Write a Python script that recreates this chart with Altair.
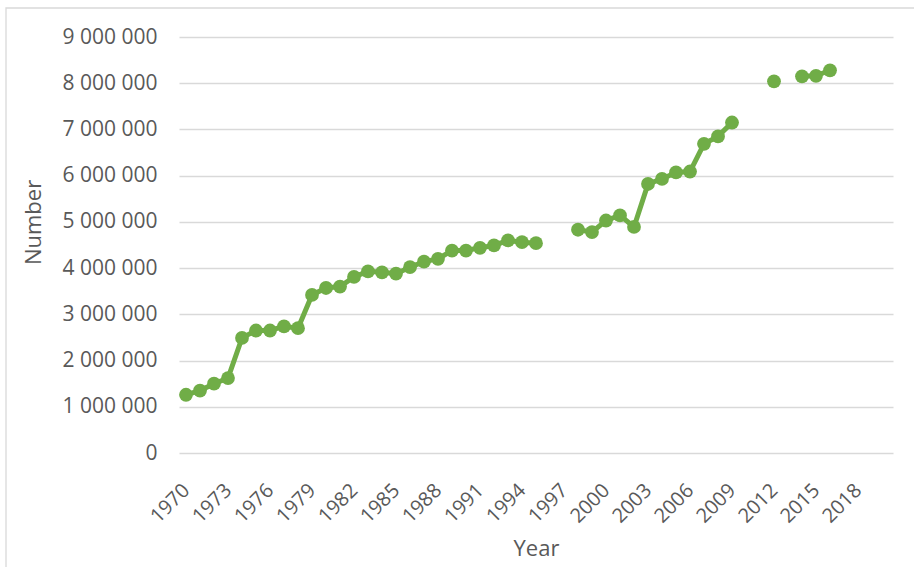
import altair as alt
import pandas as pd

# Observed years and the counts recorded for them (years without a record are absent)
years = [
    1970, 1971, 1972, 1973, 1974, 1975, 1976, 1977, 1978, 1979,
    1980, 1981, 1982, 1983, 1984, 1985, 1986, 1987, 1988, 1989,
    1990, 1991, 1992, 1993, 1994, 1995,
    1998, 1999, 2000, 2001, 2002, 2003, 2004, 2005, 2006, 2007, 2008, 2009,
    2012,
    2014, 2015, 2016,
]
numbers = [
    1260000, 1350000, 1500000, 1620000, 2490000, 2650000, 2650000, 2740000, 2700000, 3420000,
    3570000, 3600000, 3810000, 3930000, 3910000, 3880000, 4020000, 4140000, 4200000, 4380000,
    4380000, 4440000, 4490000, 4600000, 4560000, 4540000,
    4830000, 4780000, 5030000, 5140000, 4890000, 5820000, 5930000, 6070000, 6090000, 6690000, 6850000, 7150000,
    8040000,
    8150000, 8160000, 8280000,
]

# Category axis runs over every year, labelled every third year
all_years = list(range(1970, 2021))
tick_years = list(range(1970, 2019, 3))

# Consecutive years share a segment so the line breaks over missing years
segments = []
seg = 0
for i, y in enumerate(years):
    if i > 0 and y - years[i - 1] > 1:
        seg += 1
    segments.append(seg)

df = pd.DataFrame({"year": years, "number": numbers, "segment": segments})

GREEN = "#70AD47"
TEXT = "#595959"
GRID = "#D9D9D9"
FONT = "Open Sans"

x_enc = alt.X(
    "year:O",
    scale=alt.Scale(domain=all_years),
    axis=alt.Axis(
        values=tick_years,
        title="Year",
        labelAngle=-45,
        labelAlign="right",
        labelBaseline="middle",
        labelPadding=34,
        ticks=False,
        domain=False,
        grid=False,
        labelFontSize=20,
        titleFontSize=22,
        titleFontWeight="normal",
        titleY=95,
        titleBaseline="middle",
    ),
)
y_enc = alt.Y(
    "number:Q",
    scale=alt.Scale(domain=[0, 9000000], nice=False),
    axis=alt.Axis(
        values=list(range(0, 9000001, 1000000)),
        title="Number",
        labelExpr="replace(format(datum.value, ','), regexp(',', 'g'), ' ')",
        labelPadding=22,
        ticks=False,
        domain=False,
        grid=True,
        gridColor=GRID,
        gridWidth=1.6,
        labelFontSize=21,
        titleFontSize=22,
        titleFontWeight="normal",
        titleAngle=-90,
        titleAlign="center",
        titleBaseline="middle",
        titleX=-146,
        titleY=185,
    ),
)

line = alt.Chart(df).mark_line(color=GREEN, strokeWidth=5).encode(
    x=x_enc, y=y_enc, detail="segment:N"
)
points = alt.Chart(df).mark_circle(color=GREEN, size=190, opacity=1).encode(
    x=x_enc, y=y_enc
)

# Thin frame round the whole chart area
frame = alt.Chart(alt.Data(values=[{}])).mark_rect(
    fillOpacity=0, stroke=GRID, strokeWidth=1.3, clip=False
).encode(
    x=alt.value(-173), x2=alt.value(760), y=alt.value(-29), y2=alt.value(560)
)

chart = (
    alt.layer(frame, line, points)
    .properties(
        width=714,
        height=416,
        autosize=alt.AutoSizeParams(type="none"),
        padding={"left": 179, "top": 37, "right": 21, "bottom": 114},
        background="white",
    )
    .configure_view(stroke=None)
    .configure_axis(
        labelColor=TEXT,
        titleColor=TEXT,
        labelFont=FONT,
        titleFont=FONT,
    )
)

chart.save("out.html", embed_options={"renderer": "svg", "actions": False})
